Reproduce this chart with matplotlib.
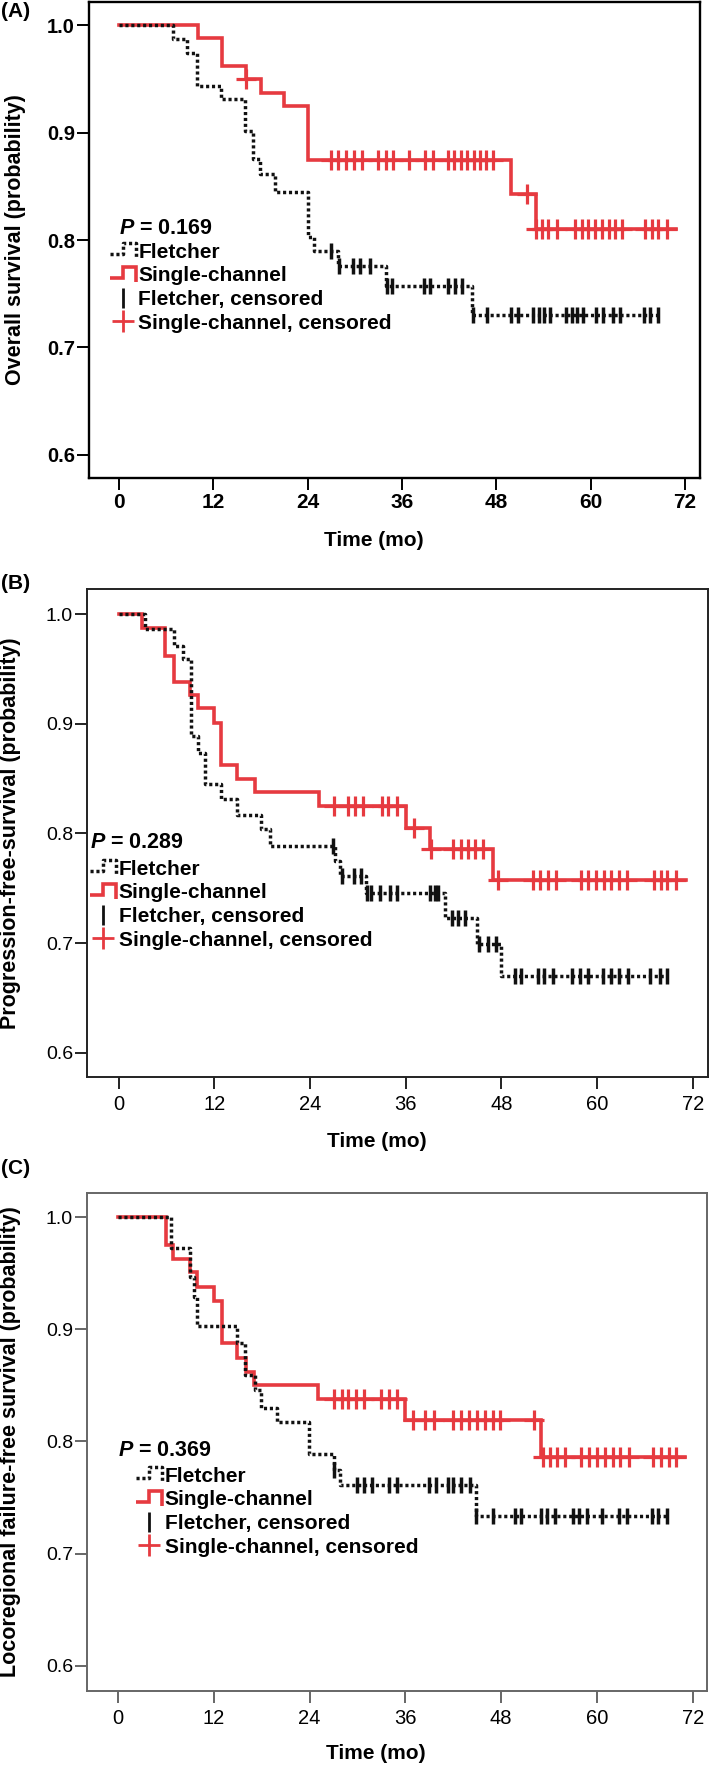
import numpy as np
import matplotlib
matplotlib.use("Agg")
import matplotlib.pyplot as plt
from matplotlib.lines import Line2D
from matplotlib.legend_handler import HandlerBase

plt.rcParams['font.family'] = ['Liberation Sans', 'DejaVu Sans']
plt.rcParams['mathtext.fontset'] = 'custom'
plt.rcParams['mathtext.it'] = 'Liberation Sans:italic:bold'
plt.rcParams['mathtext.rm'] = 'Liberation Sans:bold'

# ---------------- data ----------------
# Panel A: overall survival
A_fl_t = [0, 6.9, 8.6, 9.9, 13.0, 16.0, 17.0, 17.9, 19.9, 24.0, 24.8, 27.8, 34.0, 44.9]
A_fl_s = [1.0, 0.987, 0.974, 0.943, 0.931, 0.901, 0.875, 0.861, 0.845, 0.803, 0.790, 0.776, 0.757, 0.730]
A_fl_end = 68.9
A_fl_cens = [27.0, 28.0, 29.8, 30.7, 31.9, 34.1, 34.7, 38.8, 39.6, 41.9, 42.7, 43.6, 45.0, 46.8,
             49.8, 50.7, 52.7, 53.4, 54.1, 54.8, 56.9, 57.6, 58.2, 59.0, 60.7, 61.6, 62.8, 63.7,
             66.8, 67.6, 68.6]
A_sc_t = [0, 10.0, 13.1, 16.1, 18.0, 21.0, 24.0, 49.9, 53.0]
A_sc_s = [1.0, 0.988, 0.962, 0.950, 0.937, 0.925, 0.874, 0.843, 0.810]
A_sc_end = 70.9
A_sc_cens = [16.1, 26.9, 27.9, 28.9, 29.9, 30.9, 33.0, 33.9, 34.8, 36.9, 38.9, 39.9, 41.8, 42.6,
             43.5, 44.3, 45.1, 45.9, 46.7, 47.6, 51.9, 53.0, 53.8, 54.6, 55.7, 58.0, 58.9, 59.7,
             60.6, 61.4, 62.3, 63.1, 64.0, 66.9, 67.8, 68.6, 69.7]
A_p = "0.169"

# Panel B: progression-free survival
B_fl_t = [0, 3.3, 7.0, 8.1, 9.1, 10.0, 10.9, 12.9, 14.9, 17.9, 19.0, 27.1, 27.8, 31.0, 40.9, 44.9, 47.9]
B_fl_s = [1.0, 0.986, 0.971, 0.959, 0.889, 0.873, 0.845, 0.831, 0.817, 0.804, 0.789, 0.775, 0.761,
          0.746, 0.723, 0.699, 0.670]
B_fl_end = 68.9
B_fl_cens = [26.9, 28.0, 29.5, 30.4, 31.1, 31.7, 32.8, 34.0, 34.9, 39.0, 39.7, 40.1, 41.8, 42.6,
             43.4, 45.2, 46.3, 47.3, 49.7, 50.5, 52.6, 53.4, 54.5, 56.8, 57.8, 58.9, 60.7, 61.8,
             62.8, 63.9, 66.6, 67.9, 68.7]
B_sc_t = [0, 3.0, 5.85, 6.9, 9.0, 10.0, 12.0, 12.9, 14.9, 17.1, 25.1, 36.1, 39.0, 47.0]
B_sc_s = [1.0, 0.987, 0.962, 0.938, 0.926, 0.914, 0.901, 0.862, 0.850, 0.838, 0.825, 0.805, 0.786, 0.758]
B_sc_end = 71.1
B_sc_cens = [27.0, 28.8, 29.7, 30.7, 33.0, 33.8, 34.9, 37.0, 39.2, 41.9, 42.9, 43.8, 44.7, 45.7,
             47.6, 52.0, 52.9, 53.9, 54.9, 58.0, 58.9, 59.9, 60.9, 61.7, 62.7, 63.7, 67.1, 68.0,
             68.8, 69.9]
B_p = "0.289"

# Panel C: locoregional failure-free survival
C_fl_t = [0, 6.6, 9.0, 9.5, 9.9, 14.9, 15.9, 17.1, 17.9, 19.9, 23.9, 27.0, 27.8, 44.8]
C_fl_s = [1.0, 0.972, 0.947, 0.929, 0.903, 0.888, 0.859, 0.846, 0.830, 0.817, 0.789, 0.775, 0.761, 0.734]
C_fl_end = 69.0
C_fl_cens = [27.1, 29.9, 30.8, 31.8, 33.9, 34.9, 39.0, 39.9, 41.3, 42.0, 43.0, 44.1, 44.9, 47.0,
             49.8, 50.5, 53.0, 53.8, 54.7, 57.0, 57.8, 58.7, 60.7, 62.8, 63.8, 66.9, 67.7, 68.8]
C_sc_t = [0, 6.0, 6.9, 9.0, 9.9, 12.0, 13.0, 14.9, 16.0, 17.0, 25.0, 36.0, 53.0]
C_sc_s = [1.0, 0.975, 0.963, 0.951, 0.938, 0.925, 0.888, 0.874, 0.862, 0.850, 0.838, 0.819, 0.786]
C_sc_end = 71.1
C_sc_cens = [27.0, 28.0, 28.8, 29.8, 30.8, 33.0, 33.9, 34.9, 36.9, 38.5, 39.6, 42.0, 43.0, 44.0,
             45.0, 46.0, 47.0, 47.9, 52.1, 53.2, 54.1, 55.0, 56.0, 58.0, 59.0, 60.0, 61.0, 62.0,
             62.9, 64.0, 67.0, 68.0, 69.0, 69.9]
C_p = "0.369"

x_ticks = [0, 12, 24, 36, 48, 60, 72]
y_ticks = [0.6, 0.7, 0.8, 0.9, 1.0]
y_labels = ["Overall survival (probability)",
            "Progression-free-survival (probability)",
            "Locoregional failure-free survival (probability)"]
panel_tags = ["(A)", "(B)", "(C)"]
series_names = ["Fletcher", "Single-channel", "Fletcher, censored", "Single-channel, censored"]

# ---------------- styles ----------------
RED = '#e63a40'
BLACK = '#111111'
FL_DASH = (0, (0.9, 0.8))
FL_LW = 2.5
SC_LW = 2.6


class HandlerStep(HandlerBase):
    def __init__(self, color, ls, lw):
        super().__init__()
        self.color, self.ls, self.lw = color, ls, lw

    def create_artists(self, legend, orig_handle, xdescent, ydescent, width, height, fontsize, trans):
        xs = np.array([0.0, 0.5, 0.5, 1.0, 1.0]) * width - xdescent
        ys = np.array([0.25, 0.25, 1.0, 1.0, -0.05]) * height - ydescent
        ln = Line2D(xs, ys, color=self.color, linestyle=self.ls, lw=self.lw,
                    solid_joinstyle='miter', solid_capstyle='butt')
        ln.set_transform(trans)
        return [ln]


def level_at(t, s, c):
    t = np.asarray(t); s = np.asarray(s)
    idx = np.searchsorted(t, np.asarray(c), side='right') - 1
    return s[idx]


fig = plt.figure(figsize=(7.09, 17.66), dpi=100)

panels = [
    dict(rect=[89/709, 1-478/1766, 611/709, 476/1766], xlim=(-3.82, 73.9), ylim=(0.5786, 1.0214),
         fl=(A_fl_t, A_fl_s, A_fl_end, A_fl_cens), sc=(A_sc_t, A_sc_s, A_sc_end, A_sc_cens), p=A_p,
         bold_ticks=True, spine='#000000', spw=1.7,
         ylab_x=-0.103, xlab_y=-0.132, p_xy=(0.049, 0.525), leg_xy=(0.034, 0.494),
         tag_y=1-2/1766),
    dict(rect=[87/709, 1-1077/1766, 621/709, 488/1766], xlim=(-3.95, 73.9), ylim=(0.5781, 1.0228),
         fl=(B_fl_t, B_fl_s, B_fl_end, B_fl_cens), sc=(B_sc_t, B_sc_s, B_sc_end, B_sc_cens), p=B_p,
         bold_ticks=False, spine='#222222', spw=1.4,
         ylab_x=-0.106, xlab_y=-0.133, p_xy=(0.005, 0.480), leg_xy=(0.005, 0.445),
         tag_y=1-574/1766),
    dict(rect=[87/709, 1-1691/1766, 620/709, 498/1766], xlim=(-3.9, 73.8), ylim=(0.5777, 1.0214),
         fl=(C_fl_t, C_fl_s, C_fl_end, C_fl_cens), sc=(C_sc_t, C_sc_s, C_sc_end, C_sc_cens), p=C_p,
         bold_ticks=False, spine='#666666', spw=1.4,
         ylab_x=-0.106, xlab_y=-0.1265, p_xy=(0.0507, 0.482), leg_xy=(0.079, 0.450),
         tag_y=1-1159/1766),
]

for i, P in enumerate(panels):
    ax = fig.add_axes(P['rect'])
    ft, fs, fend, fc = P['fl']
    st, ss, send, sc = P['sc']
    # single-channel (red) below
    ax.step(list(st) + [send], list(ss) + [ss[-1]], where='post', color=RED, lw=SC_LW, zorder=2,
            solid_joinstyle='miter')
    ax.plot(sc, level_at(st, ss, sc), ls='none', marker='+', ms=14, mew=2.3, color=RED, zorder=2)
    # Fletcher (black dotted) on top
    ax.step(list(ft) + [fend], list(fs) + [fs[-1]], where='post', color=BLACK, lw=FL_LW,
            linestyle=FL_DASH, zorder=3)
    ax.plot(fc, level_at(ft, fs, fc), ls='none', marker='|', ms=12, mew=2.5, color=BLACK, zorder=3)

    ax.set_xlim(*P['xlim'])
    ax.set_ylim(*P['ylim'])
    ax.set_xticks(x_ticks)
    ax.set_yticks(y_ticks)
    ax.set_yticklabels([f"{v:.1f}" for v in y_ticks])
    tw = 'bold' if P['bold_ticks'] else 'normal'
    xs_ = 15 if P['bold_ticks'] else 14.5
    ys_ = 14.5 if P['bold_ticks'] else 14
    for lab in ax.get_xticklabels():
        lab.set_fontweight(tw); lab.set_fontsize(xs_)
    for lab in ax.get_yticklabels():
        lab.set_fontweight(tw); lab.set_fontsize(ys_)
    ax.tick_params(axis='x', direction='out', length=8.6, width=1.4, pad=2.5 if P['bold_ticks'] else 4.5,
                   top=False, color=P['spine'])
    ax.tick_params(axis='y', direction='out', length=8.6, width=1.4, pad=1.5, right=False,
                   color=P['spine'])
    for sp in ax.spines.values():
        sp.set_color(P['spine']); sp.set_linewidth(P['spw'])

    ax.set_ylabel(y_labels[i], fontsize=15.5, fontweight='bold')
    ax.yaxis.set_label_coords(P['ylab_x'], 0.5)
    ax.set_xlabel("Time (mo)", fontsize=15, fontweight='bold')
    ax.xaxis.set_label_coords(0.466, P['xlab_y'])
    ax.xaxis.label.set_va('center')

    ax.text(P['p_xy'][0], P['p_xy'][1], r"$P$ = " + P['p'], transform=ax.transAxes,
            fontsize=15.5, fontweight='bold', ha='left', va='center')

    h_fl = Line2D([], [], color=BLACK, lw=FL_LW, linestyle=FL_DASH)
    h_sc = Line2D([], [], color=RED, lw=SC_LW)
    h_flc = Line2D([], [], ls='none', marker='|', ms=14, mew=2.0, color=BLACK)
    h_scc = Line2D([], [], ls='none', marker='+', ms=16, mew=2.0, color=RED)
    leg = ax.legend([h_fl, h_sc, h_flc, h_scc], series_names,
                    handler_map={h_fl: HandlerStep(BLACK, FL_DASH, FL_LW),
                                 h_sc: HandlerStep(RED, '-', SC_LW)},
                    loc='upper left', bbox_to_anchor=P['leg_xy'], frameon=False,
                    borderpad=0, borderaxespad=0, handlelength=1.25, handletextpad=0.12,
                    labelspacing=0.22, prop=dict(size=15, weight='bold'))

    fig.text(0.002, P['tag_y'], panel_tags[i], fontsize=15, fontweight='bold', ha='left', va='top')

fig.savefig("out.png", dpi=100)
